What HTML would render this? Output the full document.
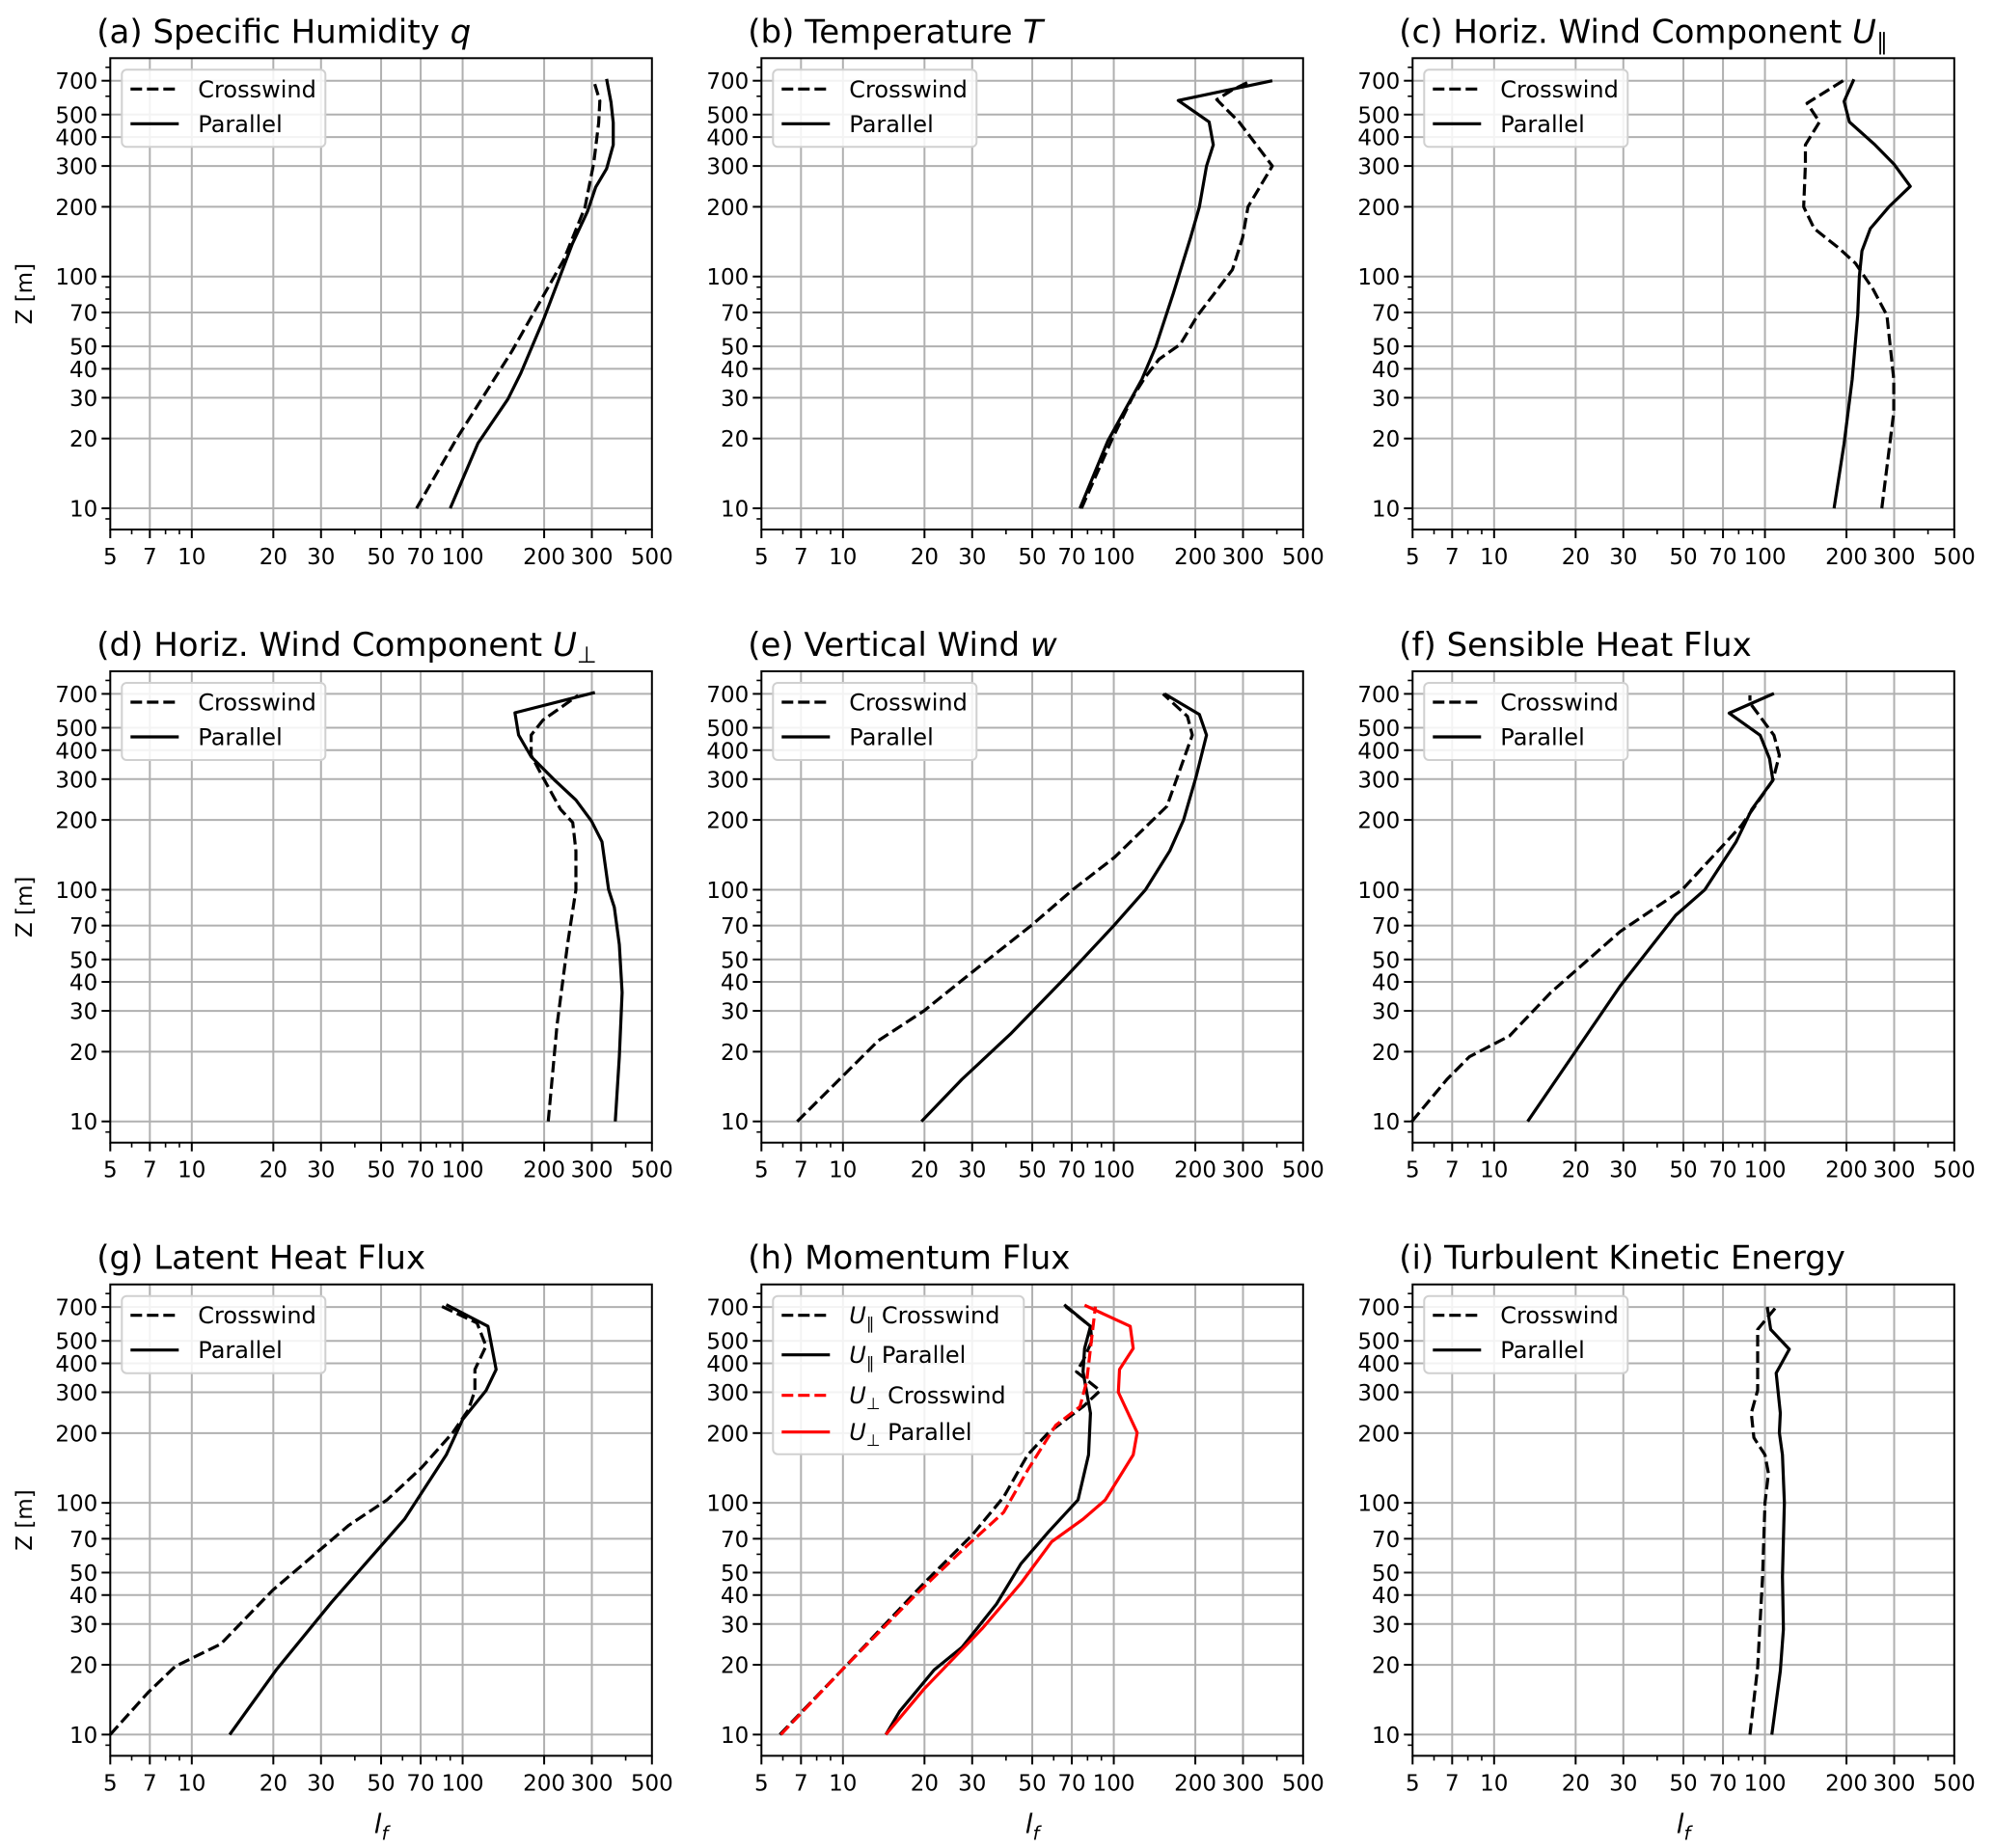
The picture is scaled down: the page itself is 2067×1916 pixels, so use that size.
<!DOCTYPE html>
<html><head><meta charset="utf-8">
<style>
html,body{margin:0;padding:0;background:#fff;}
svg{display:block;font-family:"DejaVu Sans","Liberation Sans",sans-serif;}
</style></head>
<body>
<svg id="fig" width="2067" height="1916" viewBox="0 0 2067 1916" xmlns="http://www.w3.org/2000/svg"></svg>
<script>
// ---- data (value I_f vs height z) ----
const aCrossZ=[10,19.8,47.6,118,199,309,461,573,700];
const aCrossV=[67.6,94.6,152,236,283,305,318,321,305];
const aParZ=[10,19.1,29.6,38.3,66.3,138,191,243,292,370,461,565,713];
const aParV=[90,114,147,164,200,254,289,310,340,360,360,353,340];

const bCrossZ=[10,19.6,30,37,44,51,68,107,147,200,300,465,580,640,700];
const bCrossV=[76,98,117,131,147,176,204,274,299,313,385,290,240,274,322];
const bParZ=[10,19.5,36,50,85,147,200,300,370,465,575,700];
const bParV=[75,95,127,143,166,192,207,220,233,225,173,385];

const cCrossZ=[10,26,36,68,88,114,133,161,200,305,370,465,560,710];
const cCrossV=[270,299,299,282,251,216,187,152,139,141,141,159,143,198];
const cParZ=[10,19,36,68,100,129,161,200,245,305,370,465,570,710];
const cParV=[180,196,210,220,223,228,245,287,344,300,255,205,196,213];

const dCrossZ=[10,26,58,100,147,195,222,305,380,465,540,690];
const dCrossV=[207,223,244,262,262,255,230,198,179,179,198,267];
const dParZ=[10,19,36,58,84,100,161,198,244,295,375,465,580,710];
const dParV=[366,379,388,379,363,346,327,299,262,220,179,161,156,308];

const eCrossZ=[10,22.3,30,43,70,100,138,229,465,560,700];
const eCrossV=[6.78,13.5,19.9,29.2,49.5,70.6,100.7,157,195,187,152];
const eParZ=[10,15.2,23.8,42,70,100,147,200,305,465,570,700];
const eParV=[19.5,27.5,41.5,66.5,100,131,161,181,201,220,207,154];

const fCrossZ=[10,15.2,19,23.4,36,66,100,189,297,380,464,640,690];
const fCrossV=[4.97,6.7,8.1,11.4,16.2,29.2,49.5,81.8,107,113,108,88,88];
const fParZ=[10,38.4,77.5,100,161,222,297,368,464,578,703];
const fParV=[13.3,29.2,46.8,60,78.3,89.4,107,104,96,73.8,108];

const gCrossZ=[10,15.2,19.7,24.6,42,80,103,142,201,252,305,376,475,597,713];
const gCrossV=[5,6.9,8.7,12.8,19.9,38,52.6,70.6,92,105,111,111,122,113,82];
const gParZ=[10,19,37.2,85,161,229,305,376,578,716];
const gParV=[13.8,20.5,32.8,61,87,100,122,133,124,87];

const hUparCrossZ=[10,19.4,45,72.6,106,161,201,260,305,368,410,500,578,703];
const hUparCrossV=[5.85,10.1,19.9,30,39.2,48.1,57.4,77,89,72.8,77,83,82,66.5];
const hUparParZ=[10,12.6,19,23.8,36.6,54.6,75,103,161,244,368,464,578,716];
const hUparParV=[14.4,16.2,21.7,27.5,36.9,45.4,57.4,73.8,80.7,82,77,78,82,65.6];
const hUperCrossZ=[10,19.4,42,66,91,138,216,260,333,464,703];
const hUperCrossV=[5.9,10.1,19.3,29,39.2,48,61,75,79.4,82,85.5];
const hUperParZ=[10,15.7,28.8,45,68,85,103,161,201,300,376,464,578,713];
const hUperParV=[14.4,19.9,32.8,45.4,59,77,93,118,122,104,105,118,115,78];

const iCrossZ=[10,19.5,48,100,134,161,191,244,306,560,700];
const iCrossV=[88,94,98,100,103,100,91,89,94,94,110];
const iParZ=[10,18.8,28.5,48,100,161,201,244,363,460,560,700];
const iParV=[106,114,117,116,118,116,113,114,110,123,105,102];

// ---- tick labels ----
const xTickVals=[5,7,10,20,30,50,70,100,200,300,500];
const xTickLabels=["5","7","10","20","30","50","70","100","200","300","500"];
const xMinorVals=[6,8,9,40,60,80,90,400];
const yTickVals=[10,20,30,40,50,70,100,200,300,400,500,700];
const yTickLabels=["10","20","30","40","50","70","100","200","300","400","500","700"];
const yMinorVals=[9,60,80,90,600,800];

const NS="http://www.w3.org/2000/svg";
const svg=document.getElementById('fig');
function mk(tag,attrs,parent){const e=document.createElementNS(NS,tag);for(const k in attrs)e.setAttribute(k,attrs[k]);(parent||svg).appendChild(e);return e;}

const colX=[114.3,789.3,1464.3], rowY=[60.3,696,1331.7];
const W=561.5, H=488.7;
const XL0=Math.log10(5), XL1=Math.log10(500);
const YL0=0.9084, YL1=2.9425;
const TICK=23, TITLE=34, LEG=24;

const panels=[
 {id:'a',title:['(a) Specific Humidity ',{i:'q'}],series:[[aCrossZ,aCrossV,'k',true],[aParZ,aParV,'k',false]]},
 {id:'b',title:['(b) Temperature ',{i:'T'}],series:[[bCrossZ,bCrossV,'k',true],[bParZ,bParV,'k',false]]},
 {id:'c',title:['(c) Horiz. Wind Component ',{i:'U'},{sub:'∥'}],series:[[cCrossZ,cCrossV,'k',true],[cParZ,cParV,'k',false]]},
 {id:'d',title:['(d) Horiz. Wind Component ',{i:'U'},{sub:'⊥'}],series:[[dCrossZ,dCrossV,'k',true],[dParZ,dParV,'k',false]]},
 {id:'e',title:['(e) Vertical Wind ',{i:'w'}],series:[[eCrossZ,eCrossV,'k',true],[eParZ,eParV,'k',false]]},
 {id:'f',title:['(f) Sensible Heat Flux'],series:[[fCrossZ,fCrossV,'k',true],[fParZ,fParV,'k',false]]},
 {id:'g',title:['(g) Latent Heat Flux'],series:[[gCrossZ,gCrossV,'k',true],[gParZ,gParV,'k',false]]},
 {id:'h',title:['(h) Momentum Flux'],series:[[hUparCrossZ,hUparCrossV,'k',true],[hUparParZ,hUparParV,'k',false],[hUperCrossZ,hUperCrossV,'r',true],[hUperParZ,hUperParV,'r',false]],h:true},
 {id:'i',title:['(i) Turbulent Kinetic Energy'],series:[[iCrossZ,iCrossV,'k',true],[iParZ,iParV,'k',false]]}
];

function addRich(t,parts){
  parts.forEach(p=>{
    if(typeof p==='string'){const s=mk('tspan',{},t);s.textContent=p;}
    else if(p.i){const s=mk('tspan',{'font-style':'italic'},t);s.textContent=p.i;}
    else if(p.sub){const s=mk('tspan',{'font-size':'0.7em','dy':'7'},t);s.textContent=p.sub;}
  });
}

panels.forEach((P,idx)=>{
  const c=idx%3, r=Math.floor(idx/3);
  const x0=colX[c], y0=rowY[r];
  const sx=v=>x0+(Math.log10(v)-XL0)/(XL1-XL0)*W;
  const sy=z=>y0+H-(Math.log10(z)-YL0)/(YL1-YL0)*H;
  const g=mk('g',{});
  
  
  xTickVals.forEach(v=>{if(v>5&&v<500){const l=mk('line',{x1:sx(v),x2:sx(v),y1:y0,y2:y0+H,stroke:'#b0b0b0','stroke-width':2},g);}});
  yTickVals.forEach(v=>{const l=mk('line',{x1:x0,x2:x0+W,y1:sy(v),y2:sy(v),stroke:'#b0b0b0','stroke-width':2},g);});
  P.series.forEach((s,si)=>{
    const [zs,vs,col,dash]=s;
    const pts=zs.map((z,k)=>sx(vs[k]).toFixed(1)+','+sy(z).toFixed(1)).join(' ');
    const pl=mk('polyline',{points:pts,fill:'none',stroke:col==='r'?'#ff0000':'#000','stroke-width':3.2,'stroke-linejoin':'round','stroke-dasharray':dash?'12,5':'none'},g);
    
    
  });
  const sp=mk('rect',{x:x0,y:y0,width:W,height:H,fill:'none',stroke:'#000','stroke-width':2},g);
  
  
  xTickVals.forEach((v,k)=>{
    mk('line',{x1:sx(v),x2:sx(v),y1:y0+H,y2:y0+H+9,stroke:'#000','stroke-width':2},g);
    const t=mk('text',{x:sx(v),y:y0+H+36,'text-anchor':'middle','font-size':TICK,fill:'#000'},g);
    
    
    t.textContent=xTickLabels[k];
  });
  xMinorVals.forEach(v=>mk('line',{x1:sx(v),x2:sx(v),y1:y0+H,y2:y0+H+5,stroke:'#000','stroke-width':1.6},g));
  yTickVals.forEach((v,k)=>{
    mk('line',{x1:x0-9,x2:x0,y1:sy(v),y2:sy(v),stroke:'#000','stroke-width':2},g);
    const t=mk('text',{x:x0-13,y:sy(v)+8.5,'text-anchor':'end','font-size':TICK,fill:'#000'},g);
    
    
    t.textContent=yTickLabels[k];
  });
  yMinorVals.forEach(v=>{const yy=sy(v);if(yy>=y0&&yy<=y0+H)mk('line',{x1:x0-5,x2:x0,y1:yy,y2:yy,stroke:'#000','stroke-width':1.6},g);});
  const tt=mk('text',{x:x0-14,y:y0-16,'font-size':TITLE,fill:'#000'},g);
  
  
  addRich(tt,P.title);
  if(c===0){
    const yl=mk('text',{x:0,y:0,'font-size':TICK,'text-anchor':'middle',transform:`translate(33,${y0+H/2}) rotate(-90)`},g);
    
    
    yl.textContent='Z [m]';
  }
  if(r===2){
    const xl=mk('text',{x:x0+W/2,y:y0+H+80,'font-size':28,'text-anchor':'middle'},g);
    
    
    const a=mk('tspan',{'font-style':'italic'},xl);a.textContent='l';
    const b=mk('tspan',{'font-style':'italic','font-size':'0.7em',dy:7},xl);b.textContent='f';
  }
  const lg=mk('g',{},g);
  
  
  let entries;
  if(P.h){
    entries=[[['U','∥',' Crosswind'],'#000',true],[['U','∥',' Parallel'],'#000',false],[['U','⊥',' Crosswind'],'#ff0000',true],[['U','⊥',' Parallel'],'#ff0000',false]];
  } else entries=[[['','','Crosswind'],'#000',true],[['','','Parallel'],'#000',false]];
  const lw=P.h?260:211, lh=P.h?164:80;
  mk('rect',{x:x0+12,y:y0+12,width:lw,height:lh,rx:5,fill:'#fff','fill-opacity':0.85,stroke:'#d0d0d0','stroke-width':2},lg);
  const ys=P.h?[32,73,115,153]:[32,68];
  entries.forEach((e,k)=>{
    const yy=y0+ys[k];
    mk('line',{x1:x0+21,x2:x0+71,y1:yy,y2:yy,stroke:e[1],'stroke-width':3.2,'stroke-dasharray':e[2]?'12,5':'none'},lg);
    const t=mk('text',{x:x0+91,y:yy+8.5,'font-size':LEG,fill:'#000'},lg);
    
    
    if(e[0][0]){
      const a=mk('tspan',{'font-style':'italic'},t);a.textContent='U';
      const b=mk('tspan',{'font-size':'0.7em',dy:6},t);b.textContent=e[0][1];
      const c2=mk('tspan',{dy:-6},t);c2.textContent=e[0][2];
    } else t.textContent=e[0][2];
  });
});
</script>
</body></html>
